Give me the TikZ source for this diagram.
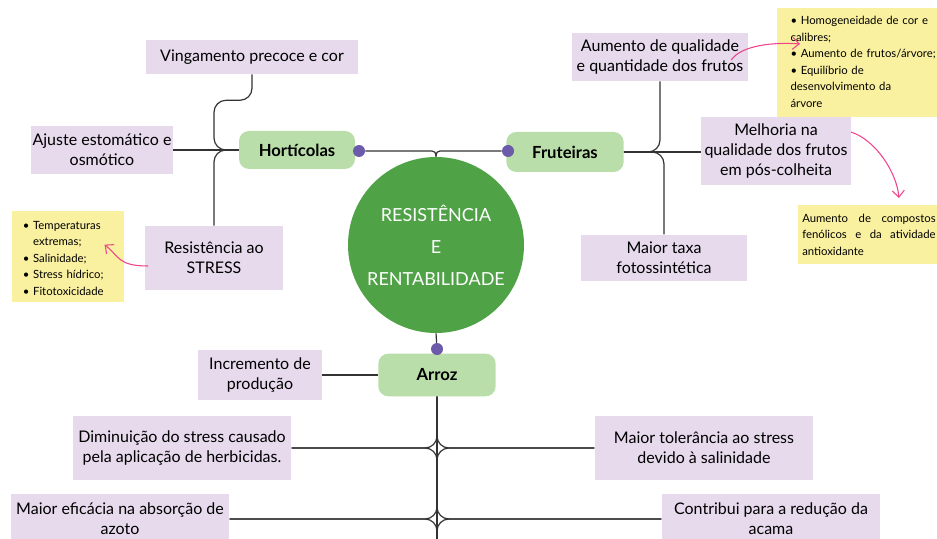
\documentclass[tikz,border=0pt]{standalone}
\usepackage{fontspec}
\setmainfont{Lato}
\usepackage{tikz}
\usetikzlibrary{positioning, arrows.meta}
\definecolor{lilacfill}{HTML}{E6DAEC}
\definecolor{leaffill}{HTML}{B9DEAA}
\definecolor{corefill}{HTML}{50A246}
\definecolor{knobfill}{HTML}{6C5BAA}
\definecolor{memofill}{HTML}{FAF1A0}
\definecolor{arrowpink}{HTML}{F0438C}
\newcommand{\itm}[1]{\par\hangindent=0.9em\hangafter=1\noindent\makebox[0.9em][l]{\textbullet}#1}
\newcommand{\memogap}[1]{\par\nointerlineskip\hbox{\rule{0pt}{#1}}}

\begin{document}
\begin{tikzpicture}[x=0.75pt,y=-0.75pt,
    core/.style={circle,fill=corefill,text=white,align=center,minimum size=132pt,inner sep=0pt,font=\fontsize{13.5}{24}\selectfont},
    topic/.style={fill=leaffill,rounded corners=7.5pt,inner sep=0pt,font=\fontsize{12.5}{14}\selectfont\bfseries},
    leafbox/.style={fill=lilacfill,align=center,inner sep=0pt,font=\fontsize{12}{15.2}\selectfont},
    memo/.style={fill=memofill,anchor=north west,inner ysep=1pt,font=\fontsize{8.5}{12.4}\selectfont,
        execute at begin node={\hyphenpenalty=10000\relax}},
    knob/.style={circle,fill=knobfill,inner sep=0pt,minimum size=9pt},
    link/.style={draw=black!80,line width=0.9pt,rounded corners=9pt},
    note/.style={draw=arrowpink,line width=0.8pt,-{Straight Barb[length=5pt,width=9pt]}}]
\clip (0,0) rectangle (937,538);
\coordinate (stem) at (437,560);

\node[core] (hub) at (436,245) {RESISTÊNCIA\\E\\RENTABILIDADE};

\node[topic,minimum width=87pt,minimum height=28.5pt] (hort) at (297,150) {Hortícolas};
\node[topic,minimum width=88pt,minimum height=30pt] (frut) at (565,152) {Fruteiras};
\node[topic,minimum width=88pt,minimum height=32pt] (arroz) at (437,375) {Arroz};

% Horticolas
\node[leafbox,minimum width=159pt,minimum height=25.5pt] (ving) at (252,57) {Vingamento precoce e cor};
\node[leafbox,minimum width=106.5pt,minimum height=36pt] (ajuste) at (102,150) {Ajuste estomático e\\osmótico};
\node[leafbox,minimum width=103pt,minimum height=48pt] (stress) at (214,258) {Resistência ao\\STRESS};
\node[memo,text width=68pt,inner xsep=8pt,align=left] (memoL) at (12,211)
    {\itm{Temperaturas extremas;}\itm{Salinidade;}\itm{Stress hídrico;}\itm{Fitotoxicidade}\memogap{4pt}};

% Fruteiras
\node[leafbox,minimum width=132pt,minimum height=36pt] (aumento) at (660,57) {Aumento de qualidade\\e quantidade dos frutos};
\node[leafbox,minimum width=112pt,minimum height=51pt] (melhoria) at (776,151) {Melhoria na\\qualidade dos frutos\\em pós-colheita};
\node[leafbox,minimum width=125pt,minimum height=35pt] (taxa) at (664,258) {Maior taxa\\fotossintética};
\node[memo,text width=112pt,inner xsep=10pt,inner ysep=0pt,align=left] (memoTR) at (777,8)
    {\itm{Homogeneidade de cor e\\calibres;}\itm{Aumento de frutos/árvore;}\itm{Equilíbrio de\\desenvolvimento da\\árvore}\memogap{7pt}};
\node[memo,text width=100pt,minimum height=44pt,inner ysep=0pt,inner xsep=3pt,align=justify] (memoR) at (798,205)
    {Aumento de compostos fenólicos e da atividade antioxidante};

% Arroz
\node[leafbox,minimum width=93pt,minimum height=37.5pt] (incremento) at (260,375) {Incremento de\\produção};
\node[leafbox,minimum width=164pt,minimum height=48pt] (herbicida) at (182,448) {Diminuição do stress causado\\pela aplicação de herbicidas.};
\node[leafbox,minimum width=164pt,minimum height=48pt] (salinidade) at (704,448) {Maior tolerância ao stress\\devido à salinidade};
\node[leafbox,minimum width=164pt,minimum height=37.5pt] (azoto) at (120,519) {Maior eficácia na absorção de\\azoto};
\node[leafbox,minimum width=164pt,minimum height=37.5pt] (acama) at (771,519) {Contribui para a redução da\\acama};

\node[knob] (hortdot) at (359,151) {};
\node[knob] (frutdot) at (508,151) {};
\node[knob] (arrozdot) at (437,349) {};

\draw[link,rounded corners=3pt] (hortdot) -| (hub.north);
\draw[link,rounded corners=3pt] (frutdot) -| (hub.north);
\draw[link] (ajuste.east) -- (hort.west);
\draw[link] (ving.south) -- ++(0,26) -| (stress.north |- hort.west) -- (hort.west);
\draw[link] (stress.north) |- (hort.west);
\draw[link] (frut.east) -- (frut.east -| melhoria.west);
\draw[link] (aumento.south) |- (frut.east);
\draw[link] (taxa.north) |- (frut.east);
\draw[link] (hub.south) -- (arrozdot);
\draw[link] (incremento.east) -- (arroz.west);
\draw[link] (arroz.south) -- (stem);
\draw[link] (herbicida.east) -| (arroz.south);
\draw[link] (herbicida.east) -| (stem);
\draw[link] (salinidade.west) -| (arroz.south);
\draw[link] (salinidade.west) -| (stem);
\draw[link] (azoto.east) -| (arroz.south);
\draw[link] (azoto.east) -| (stem);
\draw[link] (acama.west) -| (arroz.south);
\draw[link] (acama.west) -| (stem);

\draw[note] ([shift={(3,8)}]stress.west) .. controls +(-30,0) and +(15,12) .. ([shift={(-20,-12)}]memoL.east);
\draw[note] ([shift={(-17,3)}]aumento.east) .. controls +(10,-15) and +(-25,-2) .. ([shift={(23,36)}]memoTR.north west);
\draw[note] ([shift={(0,-19)}]melhoria.east) .. controls +(25,8) and +(-2,-25) .. ([shift={(30,-7)}]memoR.north);
\end{tikzpicture}
\end{document}
